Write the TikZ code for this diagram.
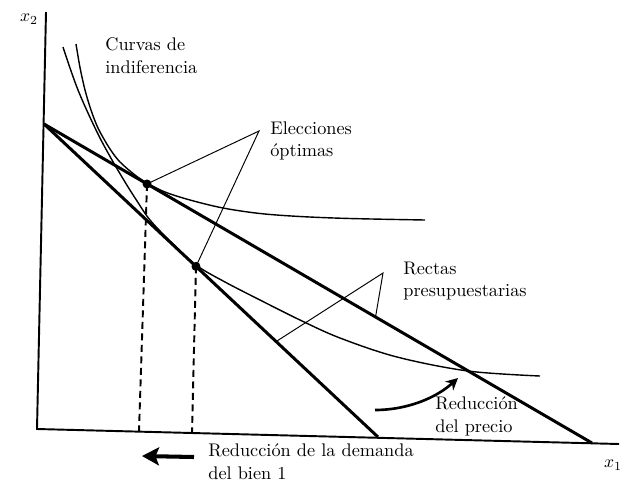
\documentclass[tikz,border=0pt]{standalone}
\usepackage{tikz}
\usetikzlibrary{arrows.meta,calc}
\tikzset{
  eje/.style={line width=1.1pt},
  recta/.style={line width=1.7pt},
  curva/.style={line width=0.8pt,smooth,tension=0.55},
  guia/.style={line width=0.55pt},
  proy/.style={line width=1.1pt,dash pattern=on 1.4mm off 0.9mm},
  punto/.style={circle,fill=black,inner sep=0pt,minimum size=1.8mm},
  lab/.style={font=\fontsize{10.4}{13}\selectfont,align=left,anchor=west,inner sep=0pt},
  flecha/.style={-{Stealth[length=2.4mm,width=2.4mm]},line width=1.5pt},
  flechag/.style={-{Stealth[length=3.4mm,width=3.6mm,inset=0.7mm]},line width=2.3pt},
}
\begin{document}
\begin{tikzpicture}[x=0.2mm,y=-0.2mm]
\useasboundingbox (0,0) rectangle (630,501);
% ejes
\coordinate (Y) at (46,12);
\coordinate (O) at (37,429);
\coordinate (X) at (619,444);
\draw[eje] (Y) -- (O) -- (X);
\node[font=\fontsize{10.4}{13}\selectfont] (x2) at (29,19) {$x_2$};
\node[font=\fontsize{10.4}{13}\selectfont] (x1) at (613,465) {$x_1$};
% rectas presupuestarias
\coordinate (A) at (44,124);
\coordinate (B1) at (378,437);
\coordinate (B2) at (592,443);
\draw[recta] (A) -- (B1);
\draw[recta] (A) -- (B2);
% curvas de indiferencia
\draw[curva] plot coordinates {(76,44) (80,67.5) (85,90) (90,107) (95,121) (100,132) (110,149) (120,162) (135,175) (147,183) (165,192) (190,200) (223,208) (260,213.5) (300,216.5) (350,218.5) (425,220)};
\draw[curva] plot coordinates {(63,47) (70,68) (78,90) (88,113) (100,138) (112,160) (125,182) (137,201) (150,220) (170,241) (196,265) (225,282) (260,300) (300,320) (340,338) (397,357) (468,371) (540,376)};
% elecciones optimas
\coordinate (f1) at (139,431);
\coordinate (f2) at (192,433);
\node[punto] (e1) at ($(A)!0.188!(B2)$) {};
\node[punto] (e2) at ($(A)!0.455!(B1)$) {};
\draw[proy] (e1.center) -- (f1);
\draw[proy] (e2.center) -- (f2);
\node[lab] (telec) at (270,141) {Elecciones\\óptimas};
\coordinate (pe) at (259,131);
\draw[guia] (e1.center) -- (pe) -- (e2.center);
% rectas
\node[lab] (trect) at (403,281) {Rectas\\presupuestarias};
\coordinate (pr) at (383,273);
\coordinate (r1) at ($(A)!0.695!(B1)$);
\coordinate (r2) at ($(A)!0.605!(B2)$);
\draw[guia] (r1) -- (pr) -- (r2);
% curvas
\node[lab] (tcurv) at (105,56) {Curvas de\\indiferencia};
% reduccion del precio
\node[lab] (tprecio) at (435,416) {Reducción\\del precio};
\coordinate (p1) at (375,410);
\coordinate (p2) at (458,378);
\draw[flecha] (p1) .. controls +(32,0) and +(-22,20) .. (p2);
% reduccion de la demanda
\node[lab] (tdem) at (208,462) {Reducción de la demanda\\del bien 1};
\coordinate (d1) at (194,457);
\coordinate (d2) at (142,456);
\draw[flechag] (d1) -- (d2);
\end{tikzpicture}
\end{document}
